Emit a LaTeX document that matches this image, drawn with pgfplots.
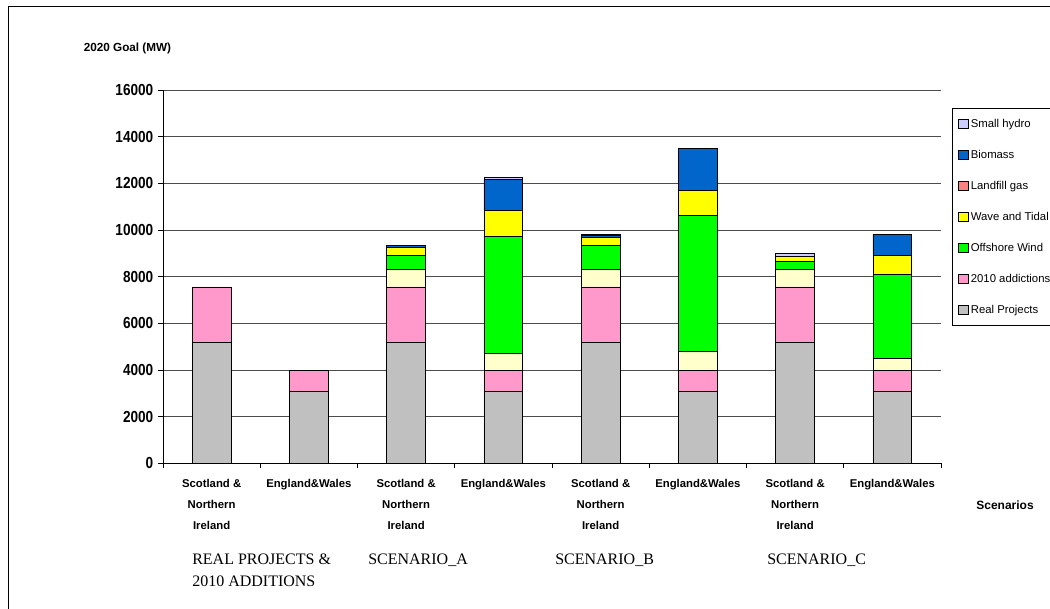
\documentclass[border=0pt]{standalone}
\usepackage{pgfplots}
\usepackage{pgfplotstable}
\pgfplotsset{compat=1.18}
\usepackage{fontspec}
\setmainfont{Liberation Sans}
\newfontfamily\timesf{Liberation Serif}

\definecolor{cRP}{HTML}{C0C0C0}
\definecolor{cAdd}{HTML}{FF99CC}
\definecolor{cCream}{HTML}{FFFFCC}
\definecolor{cOff}{HTML}{00FF00}
\definecolor{cWave}{HTML}{FFFF00}
\definecolor{cLand}{HTML}{FF8080}
\definecolor{cBio}{HTML}{0066CC}
\definecolor{cHydro}{HTML}{CCCCFF}

\pgfplotstableread{
x RP Add Cream Off Wave Land Bio Hydro
1 5170 2390 0 0 0 0 0 0
2 3090 910 0 0 0 0 0 0
3 5170 2390 760 590 360 0 50 20
4 3090 910 700 5040 1090 0 1340 100
5 5170 2390 760 1020 350 0 80 30
6 3090 900 820 5820 1080 0 1790 0
7 5170 2390 760 350 215 0 0 115
8 3090 900 510 3580 830 0 900 0
}\data

\begin{document}
\begin{tikzpicture}
\useasboundingbox (0,0) rectangle (787.5pt,456pt);
\draw[line width=0.75pt] (6pt,-5pt) -- (6pt,450.75pt) -- (800pt,450.75pt);
\begin{axis}[
  at={(122.25pt,108.5pt)}, anchor=south west,
  scale only axis, width=583.5pt, height=280pt,
  ybar stacked, bar width=0.4,
  xmin=0.5, xmax=8.5, ymin=0, ymax=16000,
  xtick={0.5,1.5,...,8.5},
  x tick label as interval,
  xticklabels={{Scotland \&\\Northern\\Ireland},{England\&Wales},{Scotland \&\\Northern\\Ireland},{England\&Wales},{Scotland \&\\Northern\\Ireland},{England\&Wales},{Scotland \&\\Northern\\Ireland},{England\&Wales}},
  xticklabel style={align=center, font=\bfseries\fontsize{8.5}{15.75}\selectfont, yshift=-5pt},
  ytick={0,2000,...,16000},
  yticklabel={\scalebox{0.85}[1]{\pgfmathprintnumber{\tick}}},
  yticklabel style={font=\bfseries\fontsize{12}{14}\selectfont},
  /pgf/number format/assume math mode=true,
  /pgf/number format/1000 sep={},
  scaled y ticks=false,
  tick align=outside, major tick length=3.75pt,
  axis x line*=bottom, axis y line*=left,
  axis line style={line width=0.75pt, black},
  every tick/.style={black, line width=0.6pt},
  ymajorgrids=true,
  grid style={black!70, line width=0.7pt},
  reverse legend,
  legend style={at={(1.0141,0.952)}, anchor=north west, draw=black, line width=0.75pt,
    font=\fontsize{8.5}{10}\selectfont, row sep=14.75pt, column sep=2pt,
    inner xsep=4.5pt, inner ysep=7.5pt,
    nodes={inner sep=0pt, text height=6.5pt, text depth=2pt, anchor=west}},
  legend cell align=left,
  legend image code/.code={\draw[#1, draw=black, line width=0.5pt] (0pt,-3.4pt) rectangle (6.8pt,3.4pt);},
  every axis plot/.append style={draw=black, line width=0.6pt},
]
\addplot[fill=cRP] table[x=x,y=RP]{\data};
\addlegendentry{Real Projects}
\addplot[fill=cAdd] table[x=x,y=Add]{\data};
\addlegendentry{2010 addictions}
\addplot[fill=cCream, forget plot] table[x=x,y=Cream]{\data};
\addplot[fill=cOff] table[x=x,y=Off]{\data};
\addlegendentry{Offshore Wind}
\addplot[fill=cWave] table[x=x,y=Wave]{\data};
\addlegendentry{Wave and Tidal}
\addplot[fill=cLand] table[x=x,y=Land]{\data};
\addlegendentry{Landfill gas}
\addplot[fill=cBio] table[x=x,y=Bio]{\data};
\addlegendentry{Biomass}
\addplot[fill=cHydro] table[x=x,y=Hydro]{\data};
\addlegendentry{Small hydro}
\end{axis}
\node[font=\bfseries\fontsize{8.8}{10}\selectfont] at (95.6pt,420pt) {2020 Goal (MW)};
\node[font=\bfseries\fontsize{9}{10}\selectfont] at (753.75pt,77.25pt) {Scenarios};
\node[font=\timesf\fontsize{12}{16.5}\selectfont, anchor=base west, inner sep=0pt] at (144pt,33pt) {REAL PROJECTS \&};
\node[font=\timesf\fontsize{12}{16.5}\selectfont, anchor=base west, inner sep=0pt] at (144pt,16.5pt) {2010 ADDITIONS};
\node[font=\timesf\fontsize{12}{16.5}\selectfont, anchor=base west, inner sep=0pt] at (276pt,33pt) {SCENARIO\_A};
\node[font=\timesf\fontsize{12}{16.5}\selectfont, anchor=base west, inner sep=0pt] at (416.25pt,33pt) {SCENARIO\_B};
\node[font=\timesf\fontsize{12}{16.5}\selectfont, anchor=base west, inner sep=0pt] at (575.25pt,33pt) {SCENARIO\_C};
\end{tikzpicture}
\end{document}
